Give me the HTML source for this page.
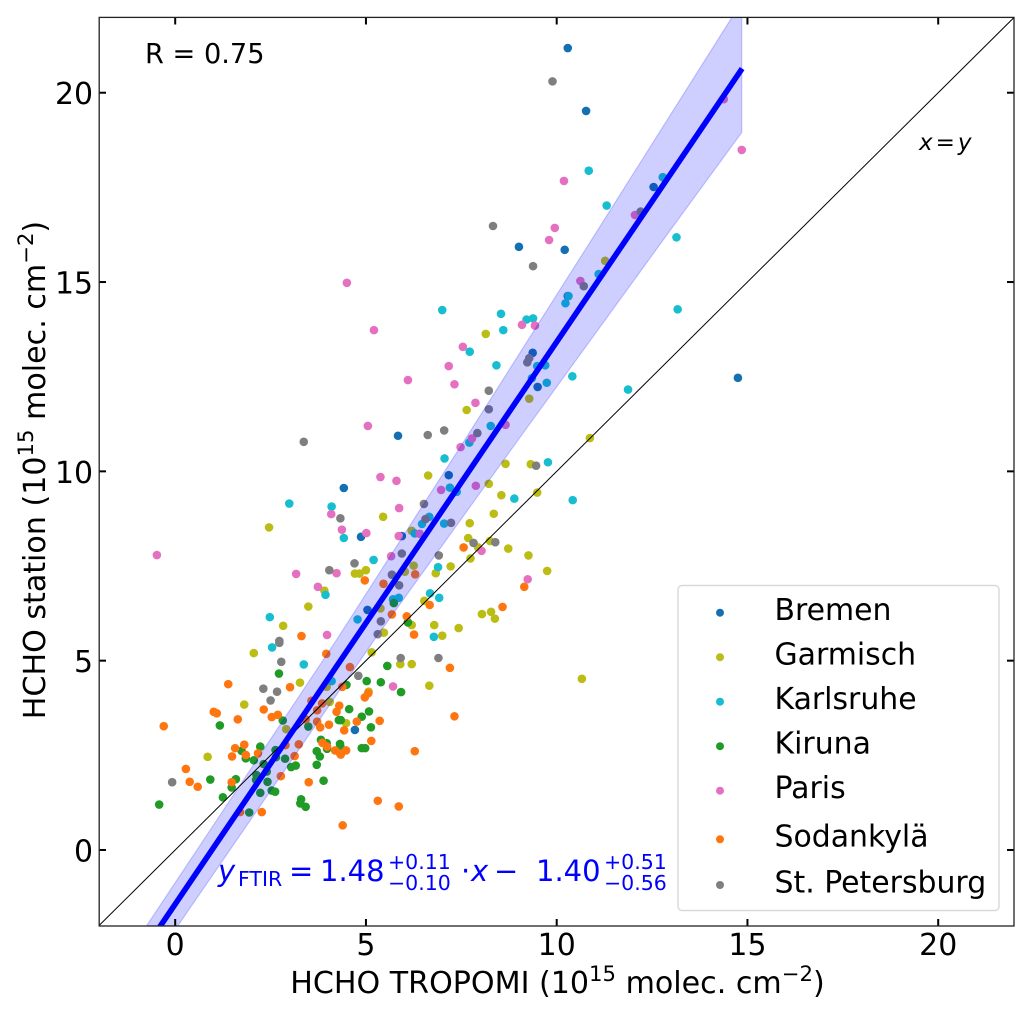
<!DOCTYPE html>
<html>
<head>
<meta charset="utf-8">
<title>HCHO station vs TROPOMI</title>
<style>
html,body{margin:0;padding:0;background:#fff;width:1033px;height:1014px;overflow:hidden}
svg{display:block;font-family:"DejaVu Sans","Liberation Sans",sans-serif}
</style>
</head>
<body>
<svg id="chart" width="1033" height="1014" viewBox="0 0 1033 1014" xmlns="http://www.w3.org/2000/svg">
  <defs><clipPath id="plot-clip"><rect x="99" y="17" width="915" height="909"/></clipPath></defs>
  <g id="marks" clip-path="url(#plot-clip)"></g>
  <g id="ticks"></g>
  <rect x="99.2" y="17.4" width="914.8" height="908.6" fill="none" stroke="#222" stroke-width="1.3"/>

  <text x="145" y="63" font-size="27.2" fill="#000">R = 0.75</text>
  <text x="919" y="150" font-size="23" fill="#000"><tspan font-style="italic">x</tspan><tspan dx="3">=</tspan><tspan dx="3" font-style="italic">y</tspan></text>

  <g fill="#0000ff">
    <text x="218" y="881" font-size="29" font-style="italic">y</text>
    <text x="238" y="886" font-size="20.5">FTIR</text>
    <text x="289" y="881" font-size="29">=</text>
    <text x="320" y="881" font-size="29">1.48</text>
    <text x="388" y="869" font-size="20.5">+0.11</text>
    <text x="388" y="890" font-size="20.5">−0.10</text>
    <text x="461" y="881" font-size="29">·</text>
    <text x="471" y="881" font-size="29" font-style="italic">x</text>
    <text x="494" y="881" font-size="29">−</text>
    <text x="536" y="881" font-size="29">1.40</text>
    <text x="604" y="869" font-size="20.5">+0.51</text>
    <text x="604" y="890" font-size="20.5">−0.56</text>
  </g>

  <g>
    <rect x="678" y="585.5" width="321" height="325" rx="4" ry="4" fill="#fff" fill-opacity="0.8" stroke="#d9d9d9" stroke-width="1.4"/>
    <g font-size="29.9" fill="#000">
      <circle cx="720" cy="612.7" r="4" fill="#1470b2"/>
      <text x="774.5" y="620">Bremen</text>
      <circle cx="720" cy="657.2" r="4" fill="#bcbd14"/>
      <text x="774.5" y="664.5">Garmisch</text>
      <circle cx="720" cy="701.7" r="4" fill="#17becf"/>
      <text x="774.5" y="709">Karlsruhe</text>
      <circle cx="720" cy="746.2" r="4" fill="#1f9b26"/>
      <text x="774.5" y="753.7">Kiruna</text>
      <circle cx="720" cy="790.7" r="4" fill="#e570c0"/>
      <text x="774.5" y="798">Paris</text>
      <circle cx="720" cy="839.3" r="4" fill="#ff7510"/>
      <text x="774.5" y="846.7">Sodankylä</text>
      <circle cx="720" cy="885" r="4" fill="#7f7f7f"/>
      <text x="774.5" y="892.7">St. Petersburg</text>
    </g>
  </g>

  <text x="557.5" y="993" text-anchor="middle" font-size="30.1" fill="#000">HCHO TROPOMI (10<tspan dy="-12" font-size="21.2">15</tspan><tspan dy="12"> molec. cm</tspan><tspan dy="-12" font-size="21.2">−2</tspan><tspan dy="12">)</tspan></text>
  <text transform="translate(45,470) rotate(-90)" text-anchor="middle" font-size="30.1" fill="#000">HCHO station (10<tspan dy="-12" font-size="21.2">15</tspan><tspan dy="12"> molec. cm</tspan><tspan dy="-12" font-size="21.2">−2</tspan><tspan dy="12">)</tspan></text>
</svg>
<script>
const xTicks = [0, 5, 10, 15, 20];
const yTicks = [0, 5, 10, 15, 20];
const xDomain = [-2, 22];
const yDomain = [-2, 22];

const fitEndsX = [-0.42, 14.86];
const fitSlope = 1.485;
const fitIntercept = -1.43;

const bandUpperX = [-0.75, 4.23, 7.59, 10.91, 14.6, 14.85];
const bandUpperY = [-2, 5.55, 10.83, 16.11, 22, 22.4];
const bandLowerX = [14.85, 12.79, 8.99, 5.22, 0.07];
const bandLowerY = [18.95, 16.11, 10.83, 5.55, -2];

const bremen = [[10.29,21.18],[10.77,19.52],[12.54,17.51],[9.01,15.93],[10.21,15.85],[10.29,14.63],[14.75,12.47],[9.37,13.13],[9.50,12.23],[5.84,10.94],[7.17,9.90],[4.42,9.56],[4.87,8.27],[5.94,8.29],[5.04,6.34],[4.71,3.17]];
const garmisch = [[2.06,5.20],[3.27,4.42],[1.81,3.84],[0.85,2.46],[3.97,4.31],[4.05,3.91],[2.91,3.19],[5.15,5.22],[5.90,4.91],[6.20,4.91],[6.66,4.34],[5.07,4.18],[4.48,3.35],[6.63,9.89],[5.45,8.80],[2.46,8.52],[6.20,8.43],[5.00,7.39],[4.71,7.30],[4.83,7.30],[6.25,7.51],[6.02,7.35],[6.83,7.31],[7.22,7.49],[7.72,8.63],[7.68,8.24],[7.74,7.70],[7.94,7.99],[3.91,6.85],[3.49,6.43],[2.83,5.92],[5.38,6.38],[6.53,6.58],[6.20,5.94],[5.47,5.74],[6.79,5.94],[7.00,5.66],[7.43,5.86],[8.66,10.20],[9.32,10.19],[8.22,9.67],[8.55,9.37],[9.49,9.44],[8.35,8.88],[8.25,8.16],[8.73,7.96],[9.26,7.78],[9.75,7.37],[8.04,6.23],[8.28,6.29],[8.38,6.11],[10.66,4.52],[10.87,10.88],[8.14,13.63],[11.27,15.56],[9.28,11.92],[7.64,11.62]];
const karlsruhe = [[2.54,5.35],[3.37,4.90],[4.10,4.46],[7.06,10.34],[2.99,9.15],[4.10,9.07],[4.42,8.24],[5.20,7.66],[6.89,7.47],[6.66,8.80],[6.47,8.61],[7.05,8.62],[6.28,8.36],[7.20,9.57],[7.38,9.46],[7.71,10.76],[6.68,6.78],[6.92,6.66],[5.86,6.66],[5.71,6.62],[4.78,6.09],[2.48,6.15],[3.94,6.74],[6.78,5.63],[9.77,10.24],[8.89,9.28],[10.42,9.24],[7.00,14.26],[8.54,14.16],[8.60,13.73],[9.21,14.01],[9.38,14.04],[7.72,13.16],[8.42,12.80],[9.49,12.78],[9.70,12.80],[9.35,12.46],[9.74,12.34],[10.41,12.51],[11.87,12.16],[13.17,14.28],[10.31,14.63],[10.23,14.44],[11.10,15.21],[8.27,11.20],[10.84,17.94],[11.31,17.02],[13.14,16.18],[12.78,17.77]];
const kiruna = [[2.72,4.66],[1.17,3.29],[2.82,3.42],[3.49,3.26],[2.23,2.73],[1.74,2.62],[2.63,2.64],[1.85,2.42],[2.06,2.37],[2.64,2.45],[2.88,2.41],[2.32,2.27],[2.13,1.98],[2.40,2.07],[0.92,1.86],[1.59,1.87],[1.48,1.65],[2.12,1.85],[2.42,1.80],[1.25,1.39],[2.23,1.51],[2.53,1.57],[2.62,1.54],[-0.42,1.20],[1.94,0.99],[3.04,2.19],[3.16,2.23],[3.71,2.25],[3.89,1.83],[3.30,1.34],[3.28,1.23],[3.42,1.14],[3.82,2.91],[3.97,2.82],[3.71,2.61],[3.79,2.47],[3.98,2.67],[4.29,3.43],[5.56,4.86],[5.02,4.46],[5.39,4.43],[5.92,4.17],[4.49,4.36],[4.56,3.72],[5.08,3.66],[4.89,3.52],[4.34,3.43],[5.13,3.24],[4.32,2.80],[4.33,2.73],[4.89,2.69],[4.98,2.69],[5.73,6.52],[6.10,6.01]];
const paris = [[-0.48,7.79],[4.50,14.98],[5.21,13.73],[6.10,12.41],[5.05,11.20],[10.19,17.67],[9.95,16.43],[9.80,16.11],[12.05,16.77],[14.38,19.83],[14.85,18.49],[9.09,13.87],[9.43,13.85],[7.54,13.29],[7.17,12.78],[7.32,12.30],[7.87,11.81],[8.66,11.23],[7.78,10.87],[10.62,15.03],[7.48,10.64],[7.88,9.62],[6.97,9.51],[5.38,9.85],[5.80,9.75],[5.87,9.03],[4.09,8.87],[4.37,8.46],[5.01,8.37],[5.86,8.29],[6.41,8.35],[5.66,7.76],[3.17,7.29],[4.23,7.31],[3.74,6.95],[3.98,5.68],[8.03,7.90],[9.24,7.15],[5.71,4.32]];
const sodankyla = [[3.96,5.18],[1.39,4.38],[3.01,4.30],[2.32,3.71],[1.01,3.65],[1.09,3.61],[1.64,3.45],[-0.30,3.27],[2.53,3.51],[2.69,3.57],[3.57,3.94],[3.72,3.69],[3.85,3.87],[3.42,3.45],[3.72,3.39],[3.80,3.24],[4.03,3.31],[4.23,3.65],[1.81,2.78],[1.57,2.69],[1.49,2.47],[1.85,2.51],[2.17,2.55],[2.89,2.77],[3.24,2.79],[3.13,2.48],[0.28,2.14],[0.38,1.80],[0.59,1.67],[1.48,1.79],[2.77,1.95],[3.50,1.79],[1.70,1.00],[2.27,1.00],[3.86,2.83],[3.98,2.73],[4.19,2.63],[4.32,2.55],[4.58,4.83],[4.38,4.31],[4.30,3.81],[4.97,4.03],[5.06,4.14],[4.76,3.39],[5.36,3.41],[4.43,3.16],[5.14,2.88],[6.28,2.61],[7.20,4.81],[7.32,3.53],[4.48,2.63],[4.34,2.52],[5.31,1.30],[5.86,1.15],[4.39,0.65],[4.97,7.12],[3.31,5.65],[5.46,7.03],[6.29,7.28],[5.68,6.22],[6.07,6.17],[6.26,5.69],[6.67,6.47],[7.56,7.99],[9.15,6.95],[8.58,6.42]];
const stPetersburg = [[2.73,5.47],[2.78,4.97],[2.31,4.26],[2.67,4.18],[2.50,3.95],[-0.08,1.79],[5.91,5.07],[6.90,5.07],[4.80,4.60],[3.37,10.78],[4.33,8.76],[6.52,9.14],[6.56,8.74],[7.23,8.64],[5.94,7.83],[6.91,7.78],[4.70,7.57],[4.04,7.39],[5.68,7.27],[5.87,6.99],[5.39,6.04],[5.31,5.70],[2.73,5.52],[7.82,8.11],[9.46,10.15],[8.39,8.13],[9.38,15.42],[10.71,14.89],[9.23,12.88],[9.28,12.99],[8.22,12.13],[7.05,11.08],[8.22,11.64],[7.92,11.01],[9.89,20.30],[12.20,16.86],[8.33,16.48],[6.62,10.96]];

const seriesNames = ['bremen', 'garmisch', 'karlsruhe', 'kiruna', 'paris', 'sodankyla', 'st-petersburg'];
const seriesData = [bremen, garmisch, karlsruhe, kiruna, paris, sodankyla, stPetersburg];
const seriesColors = ['#1470b2', '#bcbd14', '#17becf', '#1f9b26', '#e570c0', '#ff7510', '#7f7f7f'];

const NS = 'http://www.w3.org/2000/svg';
const plotLeft = 98.9, plotRight = 1014.5, plotTop = 17, plotBottom = 925.7;
function sx(v) { return plotLeft + (v - xDomain[0]) / (xDomain[1] - xDomain[0]) * (plotRight - plotLeft); }
function sy(v) { return plotBottom - (v - yDomain[0]) / (yDomain[1] - yDomain[0]) * (plotBottom - plotTop); }

const marks = document.getElementById('marks');
const ticks = document.getElementById('ticks');

seriesData.forEach(function (pts, i) {
  const g = document.createElementNS(NS, 'g');
  g.setAttribute('fill', seriesColors[i]);
  
  
  pts.forEach(function (p) {
    const c = document.createElementNS(NS, 'circle');
    c.setAttribute('cx', sx(p[0]).toFixed(2));
    c.setAttribute('cy', sy(p[1]).toFixed(2));
    c.setAttribute('r', '4.3');
    
    
    g.appendChild(c);
  });
  marks.appendChild(g);
});

const band = document.createElementNS(NS, 'polygon');
const bandPts = [];
bandUpperX.forEach(function (v, i) { bandPts.push(sx(v).toFixed(2) + ',' + sy(bandUpperY[i]).toFixed(2)); });
bandLowerX.forEach(function (v, i) { bandPts.push(sx(v).toFixed(2) + ',' + sy(bandLowerY[i]).toFixed(2)); });
band.setAttribute('points', bandPts.join(' '));
band.setAttribute('fill', '#0000ff');
band.setAttribute('fill-opacity', '0.19');
band.setAttribute('stroke', '#0000ff');
band.setAttribute('stroke-opacity', '0.2');
band.setAttribute('stroke-width', '1.2');


marks.appendChild(band);

const identity = document.createElementNS(NS, 'line');
identity.setAttribute('x1', sx(xDomain[0]));
identity.setAttribute('y1', sy(yDomain[0]));
identity.setAttribute('x2', sx(xDomain[1]));
identity.setAttribute('y2', sy(yDomain[1]));
identity.setAttribute('stroke', '#000');
identity.setAttribute('stroke-width', '1');


marks.appendChild(identity);

const fit = document.createElementNS(NS, 'line');
fit.setAttribute('x1', sx(fitEndsX[0]));
fit.setAttribute('y1', sy(fitSlope * fitEndsX[0] + fitIntercept));
fit.setAttribute('x2', sx(fitEndsX[1]));
fit.setAttribute('y2', sy(fitSlope * fitEndsX[1] + fitIntercept));
fit.setAttribute('stroke', '#0000ff');
fit.setAttribute('stroke-width', '5.6');


marks.appendChild(fit);

function addTick(x1, y1, x2, y2, name) {
  const t = document.createElementNS(NS, 'line');
  t.setAttribute('x1', x1);
  t.setAttribute('y1', y1);
  t.setAttribute('x2', x2);
  t.setAttribute('y2', y2);
  t.setAttribute('stroke', '#000');
  t.setAttribute('stroke-width', '2');
  
  
  ticks.appendChild(t);
}
function addLabel(x, y, anchor, str, name) {
  const t = document.createElementNS(NS, 'text');
  t.setAttribute('x', x);
  t.setAttribute('y', y);
  t.setAttribute('text-anchor', anchor);
  t.setAttribute('font-size', '29.9');
  t.setAttribute('fill', '#000');
  
  
  t.textContent = str;
  ticks.appendChild(t);
}
xTicks.forEach(function (v) {
  const x = sx(v);
  addTick(x, 926, x, 919, 'x-tick');
  addTick(x, 17.5, x, 24.5, 'x-tick-top');
  addLabel(x, 955, 'middle', String(v), 'x-tick-label');
});
yTicks.forEach(function (v) {
  const y = sy(v);
  addTick(99, y, 106, y, 'y-tick');
  addTick(1014, y, 1007, y, 'y-tick-right');
  addLabel(93, y + 11.5, 'end', String(v), 'y-tick-label');
});
</script>
</body>
</html>
